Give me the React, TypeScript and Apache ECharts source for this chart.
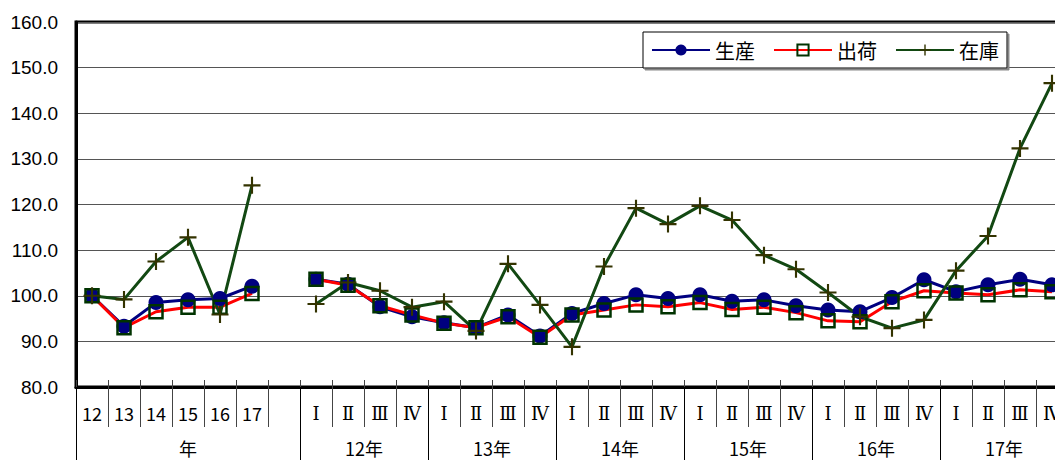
import React, { useEffect, useRef } from "react";
import * as echarts from "echarts";

const annualLabels = ["12", "13", "14", "15", "16", "17"];
const quarterLabels = ["Ⅰ", "Ⅱ", "Ⅲ", "Ⅳ"];
const quarterYears = ["12年", "13年", "14年", "15年", "16年", "17年"];
const annualGroupLabel = "年";
const seriesNames = ["生産", "出荷", "在庫"];

const productionAnnual = [100.0, 93.3, 98.5, 99.1, 99.4, 102.1];
const shipmentAnnual = [100.0, 93.0, 96.5, 97.5, 97.5, 100.5];
const inventoryAnnual = [100.0, 99.2, 107.5, 112.8, 95.9, 124.2];

const productionQuarterly = [
  103.6, 102.5, 97.6, 95.4, 94.1, 93.0, 95.8, 91.2, 96.1, 98.3, 100.2, 99.4,
  100.2, 98.8, 99.1, 97.8, 96.9, 96.5, 99.6, 103.5, 100.9, 102.4, 103.6, 102.4,
];
const shipmentQuarterly = [
  103.6, 102.3, 97.8, 95.8, 94.0, 93.0, 95.4, 90.9, 95.8, 96.9, 98.0, 97.6,
  98.5, 97.0, 97.5, 96.3, 94.5, 94.3, 98.7, 101.1, 100.6, 100.2, 101.3, 100.9,
];
const inventoryQuarterly = [
  98.2, 102.9, 101.1, 97.5, 98.7, 92.3, 107.0, 98.0, 88.8, 106.4, 119.2, 115.7,
  119.7, 116.6, 108.9, 105.8, 100.7, 95.4, 92.9, 94.7, 105.5, 113.1, 132.3, 146.6,
];

const yMin = 80;
const yMax = 160;
const yStep = 10;

const PLUS = "path://M7,0H9V7H16V9H9V16H7V9H0V7H7Z";

export default function App() {
  const ref = useRef<HTMLDivElement>(null);

  useEffect(() => {
    if (!ref.current) return;
    const chart = echarts.init(ref.current, null, { renderer: "svg" });

    const categories = [
      ...annualLabels,
      "",
      ...quarterYears.flatMap(() => quarterLabels),
    ];
    const withGap = (a: number[], q: number[]) => [...a, null, ...q];

    // second-level (group) axis on half-category steps
    const groups = [
      { label: annualGroupLabel, count: annualLabels.length + 1 },
      ...quarterYears.map((y) => ({ label: y, count: quarterLabels.length })),
    ];
    const groupData: string[] = new Array(categories.length * 2 + 1).fill("");
    const dividers = new Set<number>([0]);
    let pos = 0;
    groups.forEach((g) => {
      groupData[pos * 2 + g.count] = g.label;
      pos += g.count;
      dividers.add(pos * 2);
    });

    const jp = "Noto Sans CJK JP";

    chart.setOption({
      animation: false,
      grid: {
        left: 76,
        top: 22,
        width: 992,
        height: 365,
        show: true,
        borderColor: "#000",
        borderWidth: 3,
        backgroundColor: "transparent",
      },
      legend: {
        data: seriesNames,
        left: 643,
        top: 32,
        itemWidth: 58,
        itemHeight: 14,
        itemGap: 18,
        padding: [8, 8, 8, 8],
        backgroundColor: "#fff",
        borderColor: "#000",
        borderWidth: 1,
        shadowColor: "#888",
        shadowOffsetX: 2,
        shadowOffsetY: 2,
        shadowBlur: 0,
        textStyle: { fontSize: 20, color: "#000", fontFamily: jp },
      },
      xAxis: [
        {
          type: "category",
          data: categories,
          boundaryGap: true,
          position: "bottom",
          axisLine: { show: true, lineStyle: { color: "#000", width: 3 } },
          axisTick: {
            show: true,
            interval: 0,
            length: 40,
            lineStyle: { color: "#444", width: 1 },
          },
          axisLabel: {
            interval: 0,
            margin: 17,
            color: "#000",
            fontSize: 18,
            fontFamily: jp,
            formatter: (v: string) =>
              quarterLabels.includes(v) ? `{r|${v}}` : v,
            rich: {
              r: { fontFamily: "DejaVu Serif", fontSize: 18, color: "#000" },
            },
          },
          splitLine: { show: false },
        },
        {
          type: "category",
          data: categories,
          boundaryGap: true,
          position: "bottom",
          axisLine: { show: false },
          axisTick: {
            show: true,
            inside: true,
            interval: 0,
            length: 7,
            lineStyle: { color: "#444", width: 1 },
          },
          axisLabel: { show: false },
          splitLine: { show: false },
        },
        {
          type: "category",
          data: groupData,
          boundaryGap: false,
          position: "bottom",
          axisLine: { show: false },
          axisTick: {
            show: true,
            interval: (i: number) => dividers.has(i),
            length: 80,
            lineStyle: { color: "#000", width: 1 },
          },
          axisLabel: {
            interval: 0,
            margin: 52,
            color: "#000",
            fontSize: 18,
            fontFamily: jp,
          },
          splitLine: { show: false },
        },
      ],
      yAxis: {
        type: "value",
        min: yMin,
        max: yMax,
        interval: yStep,
        axisLine: { show: true, lineStyle: { color: "#000", width: 3 } },
        axisTick: { show: false },
        axisLabel: {
          margin: 18,
          color: "#000",
          fontSize: 19,
          fontFamily: "Liberation Sans",
          formatter: (v: number) => v.toFixed(1),
        },
        splitLine: { show: true, lineStyle: { color: "#555", width: 1 } },
      },
      series: [
        {
          name: seriesNames[0],
          type: "line",
          xAxisIndex: 0,
          data: withGap(productionAnnual, productionQuarterly),
          connectNulls: false,
          symbol: "circle",
          symbolSize: 15,
          lineStyle: { color: "#000080", width: 3 },
          itemStyle: { color: "#000080" },
        },
        {
          name: seriesNames[1],
          type: "line",
          xAxisIndex: 0,
          data: withGap(shipmentAnnual, shipmentQuarterly),
          connectNulls: false,
          symbol: "rect",
          symbolSize: 13,
          lineStyle: { color: "#ff0000", width: 3 },
          itemStyle: {
            color: "rgba(0,0,0,0)",
            borderColor: "#003300",
            borderWidth: 2.5,
          },
        },
        {
          name: seriesNames[2],
          type: "line",
          xAxisIndex: 0,
          data: withGap(inventoryAnnual, inventoryQuarterly),
          connectNulls: false,
          symbol: PLUS,
          symbolSize: 17,
          lineStyle: { color: "#124812", width: 3 },
          itemStyle: { color: "#333300" },
        },
      ],
    });

    return () => chart.dispose();
  }, []);

  return (
    <div
      style={{
        position: "fixed",
        left: 0,
        top: 0,
        width: 1055,
        height: 460,
        overflow: "hidden",
        background: "#fff",
      }}
    >
      <div ref={ref} style={{ width: 1100, height: 460 }} />
    </div>
  );
}
